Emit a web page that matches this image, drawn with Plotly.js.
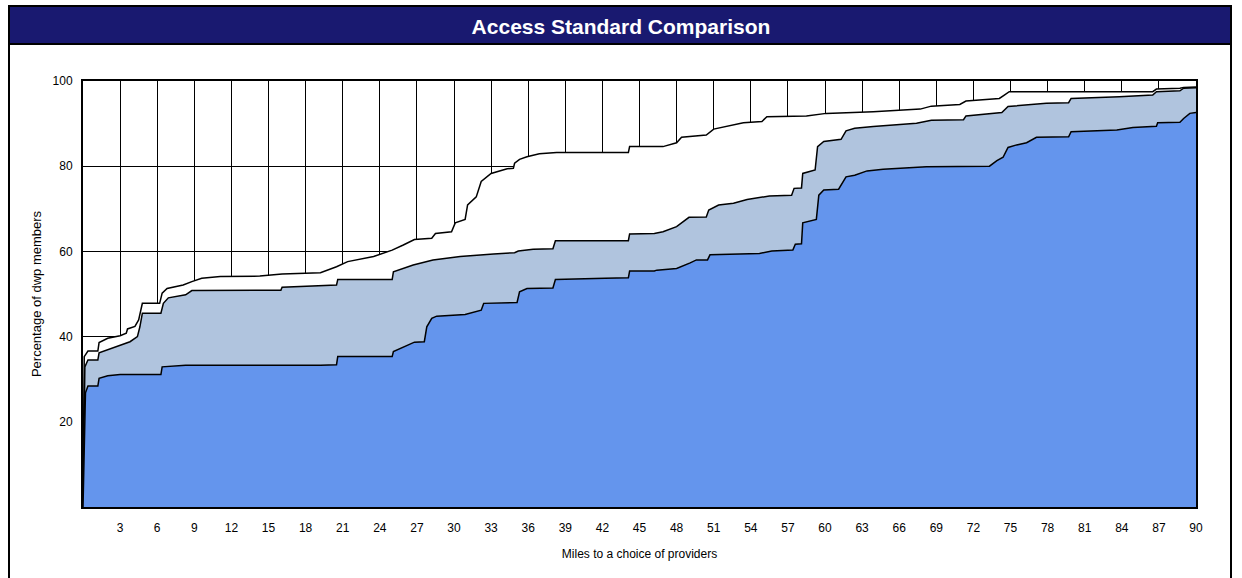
<!DOCTYPE html>
<html>
<head>
<meta charset="utf-8">
<script src="https://cdn.plot.ly/plotly-3.0.1.min.js"></script>
<style>
  html, body { margin: 0; padding: 0; background: #ffffff; }
  #chart { width: 1242px; height: 578px; }
</style>
</head>
<body>
<div id="chart"></div>
<script>
// ---- Data ----
const chartTitle = "Access Standard Comparison";
const xTitle = "Miles to a choice of providers";
const yTitle = "Percentage of dwp members";

const xTickVals = [3, 6, 9, 12, 15, 18, 21, 24, 27, 30, 33, 36, 39, 42, 45, 48, 51, 54, 57, 60, 63, 66, 69, 72, 75, 78, 81, 84, 87, 90];
const yTickVals = [20, 40, 60, 80, 100];

// Top curve (white area)
const milesTop = [0, 0.1, 0.4, 1.2, 1.3, 2.0, 3.0, 3.5, 3.6, 4.2, 4.5, 4.8, 6.2, 6.4, 6.8, 8.1, 8.8, 9.6, 11.1, 14.3, 16.1, 19.2, 20.5, 21.4, 23.5, 25.0, 25.9, 26.8, 28.2, 28.5, 29.8, 30.1, 30.9, 31.1, 31.8, 32.2, 33.0, 34.3, 34.8, 34.9, 35.3, 35.9, 36.9, 38.3, 44.1, 44.2, 46.9, 48.0, 48.4, 50.4, 51.0, 52.6, 53.4, 54.9, 55.3, 58.5, 60.1, 63.9, 67.7, 68.6, 70.9, 71.4, 73.6, 74.1, 74.5, 74.9, 86.5, 86.8, 88.7, 89.0, 90];
const pctTop   = [0, 35.3, 36.6, 36.6, 38.6, 39.6, 40.2, 40.8, 41.8, 42.4, 43.9, 47.8, 47.8, 50.2, 51.3, 52.1, 52.9, 53.7, 54.1, 54.2, 54.7, 55.0, 56.4, 57.6, 58.8, 60.3, 61.5, 62.8, 63.1, 64.2, 64.6, 66.7, 67.5, 70.9, 72.8, 76.4, 78.3, 79.4, 79.5, 80.7, 81.6, 82.2, 82.9, 83.2, 83.2, 84.6, 84.6, 85.5, 86.8, 87.3, 88.7, 89.7, 90.2, 90.5, 91.6, 91.8, 92.4, 92.8, 93.4, 94.1, 94.5, 95.3, 95.8, 95.9, 96.7, 97.5, 97.5, 98.1, 98.3, 98.5, 98.6];

// Middle curve (light steel blue area)
const milesMid = [0, 0.15, 0.4, 1.2, 1.3, 2.0, 3.0, 3.8, 4.4, 4.6, 4.8, 6.3, 6.5, 6.9, 8.3, 8.8, 14.3, 16.0, 16.1, 20.5, 20.6, 25.0, 25.1, 25.9, 26.7, 28.3, 30.5, 33.2, 34.9, 35.2, 36.4, 38.0, 38.2, 44.1, 44.2, 46.2, 46.9, 48.0, 48.4, 49.0, 50.4, 50.6, 51.4, 52.6, 53.7, 55.5, 57.3, 57.5, 58.1, 58.2, 59.2, 59.4, 59.9, 61.3, 61.7, 62.4, 63.9, 67.4, 68.6, 71.2, 71.4, 73.6, 74.3, 74.8, 77.9, 79.7, 79.9, 83.8, 86.5, 86.8, 88.7, 89.0, 90];
const pctMid   = [0, 32.9, 34.5, 34.5, 36.2, 36.9, 38.0, 38.8, 40.0, 42.3, 45.5, 45.5, 47.8, 49.1, 49.8, 50.8, 50.9, 50.9, 51.6, 52.1, 53.4, 53.4, 55.2, 56.0, 56.8, 58.0, 58.8, 59.4, 59.7, 60.1, 60.5, 60.6, 62.5, 62.5, 64.1, 64.2, 64.6, 65.8, 66.7, 68.0, 68.1, 69.7, 70.9, 71.3, 72.2, 73.0, 73.2, 74.8, 74.9, 78.3, 79.1, 84.6, 85.8, 86.3, 88.3, 88.9, 89.3, 90.1, 90.8, 90.9, 91.8, 92.4, 92.6, 94.0, 94.8, 94.9, 95.9, 96.3, 96.7, 97.5, 97.7, 98.3, 98.4];

// Bottom curve (cornflower blue area)
const milesLow = [0, 0.2, 0.4, 1.2, 1.3, 2.0, 3.0, 6.3, 6.4, 8.3, 19.2, 20.5, 20.6, 25.0, 25.1, 25.5, 25.9, 26.8, 27.6, 27.8, 28.2, 28.6, 30.9, 32.2, 32.4, 35.1, 35.3, 35.9, 38.0, 38.2, 42.2, 44.1, 44.2, 46.2, 46.4, 48.0, 49.1, 49.6, 50.5, 50.7, 54.7, 55.7, 57.4, 57.6, 58.1, 58.2, 59.3, 59.5, 59.9, 61.1, 61.7, 62.4, 63.4, 64.7, 68.2, 73.3, 73.9, 74.4, 74.8, 75.5, 76.3, 76.8, 77.1, 79.7, 79.9, 83.6, 84.9, 86.8, 86.9, 88.7, 89.0, 89.5, 90];
const pctLow   = [0, 26.8, 28.4, 28.4, 30.2, 30.8, 31.1, 31.1, 32.9, 33.3, 33.3, 33.4, 35.3, 35.3, 36.5, 37.0, 37.6, 38.7, 38.8, 42.3, 44.3, 44.8, 45.2, 46.2, 47.8, 48.0, 50.5, 51.3, 51.4, 53.4, 53.7, 53.8, 55.4, 55.4, 55.6, 56.0, 57.3, 58.0, 58.0, 59.2, 59.5, 60.1, 60.3, 61.7, 61.8, 66.7, 67.5, 73.2, 74.4, 74.6, 77.5, 77.9, 78.9, 79.3, 79.9, 80.0, 81.3, 82.1, 84.4, 85.0, 85.5, 86.2, 86.8, 86.9, 88.1, 88.5, 89.1, 89.4, 90.2, 90.3, 91.2, 92.4, 92.6];

// ---- Chart ----
const FONT = "Liberation Sans, Arial, Helvetica, sans-serif";

function areaTrace(x, y, fillColor) {
  return {
    type: "scatter",
    mode: "lines",
    x: x,
    y: y,
    fill: "tozeroy",
    fillcolor: fillColor,
    line: { color: "#000000", width: 1.5, shape: "linear" },
    hoverinfo: "x+y",
    showlegend: false
  };
}

const traces = [
  areaTrace(milesTop, pctTop, "#ffffff"),
  areaTrace(milesMid, pctMid, "#b0c4de"),
  areaTrace(milesLow, pctLow, "#6495ed")
];

// pixel helpers for frame decorations (plot area: x 83..1196, y 81..507)
const L = 83, R = 46, T = 81, B = 71, W = 1242, H = 578;
const pw = W - L - R, ph = H - T - B;
const px = v => (v - L) / pw;
const py = v => (H - B - v) / ph;

const layout = {
  width: W,
  height: H,
  autosize: false,
  margin: { l: L, r: R, t: T, b: B, pad: 0 },
  paper_bgcolor: "#ffffff",
  plot_bgcolor: "#ffffff",
  font: { family: FONT, size: 12, color: "#000000" },
  title: {
    text: chartTitle,
    font: { family: FONT, size: 21, color: "#ffffff", weight: "bold" },
    x: 0.5, xref: "container", xanchor: "center",
    y: 1 - 27 / H, yref: "container", yanchor: "middle"
  },
  xaxis: {
    range: [0, 90],
    tickmode: "array",
    tickvals: xTickVals,
    ticks: "",
    ticklabelstandoff: 9,
    tickfont: { family: FONT, size: 12, color: "#000000" },
    showgrid: true,
    gridcolor: "#000000",
    gridwidth: 1,
    zeroline: false,
    showline: true,
    linecolor: "#000000",
    linewidth: 2,
    mirror: true,
    fixedrange: true,
    layer: "above traces",
    title: { text: xTitle, font: { family: FONT, size: 12, color: "#000000" }, standoff: 15 }
  },
  yaxis: {
    range: [0, 100],
    tickmode: "array",
    tickvals: yTickVals,
    ticks: "",
    ticklabelstandoff: 6,
    tickfont: { family: FONT, size: 12, color: "#000000" },
    showgrid: true,
    gridcolor: "#000000",
    gridwidth: 1,
    zeroline: false,
    showline: true,
    linecolor: "#000000",
    linewidth: 2,
    mirror: true,
    fixedrange: true,
    layer: "above traces",
    title: { text: yTitle, font: { family: FONT, size: 13, color: "#000000" }, standoff: 8 }
  },
  shapes: [
    // outer frame (left, right)
    { type: "line", xref: "paper", yref: "paper", x0: px(9), x1: px(9), y0: py(6), y1: py(600), line: { color: "#000000", width: 2 }, layer: "below" },
    { type: "line", xref: "paper", yref: "paper", x0: px(1231), x1: px(1231), y0: py(6), y1: py(600), line: { color: "#000000", width: 2 }, layer: "below" },
    // title bar
    { type: "rect", xref: "paper", yref: "paper", x0: px(9), x1: px(1231), y0: py(44), y1: py(6), fillcolor: "#191970", line: { color: "#000000", width: 2 }, layer: "below" }
  ]
};

Plotly.newPlot("chart", traces, layout, { staticPlot: true, displayModeBar: false });
</script>
</body>
</html>
